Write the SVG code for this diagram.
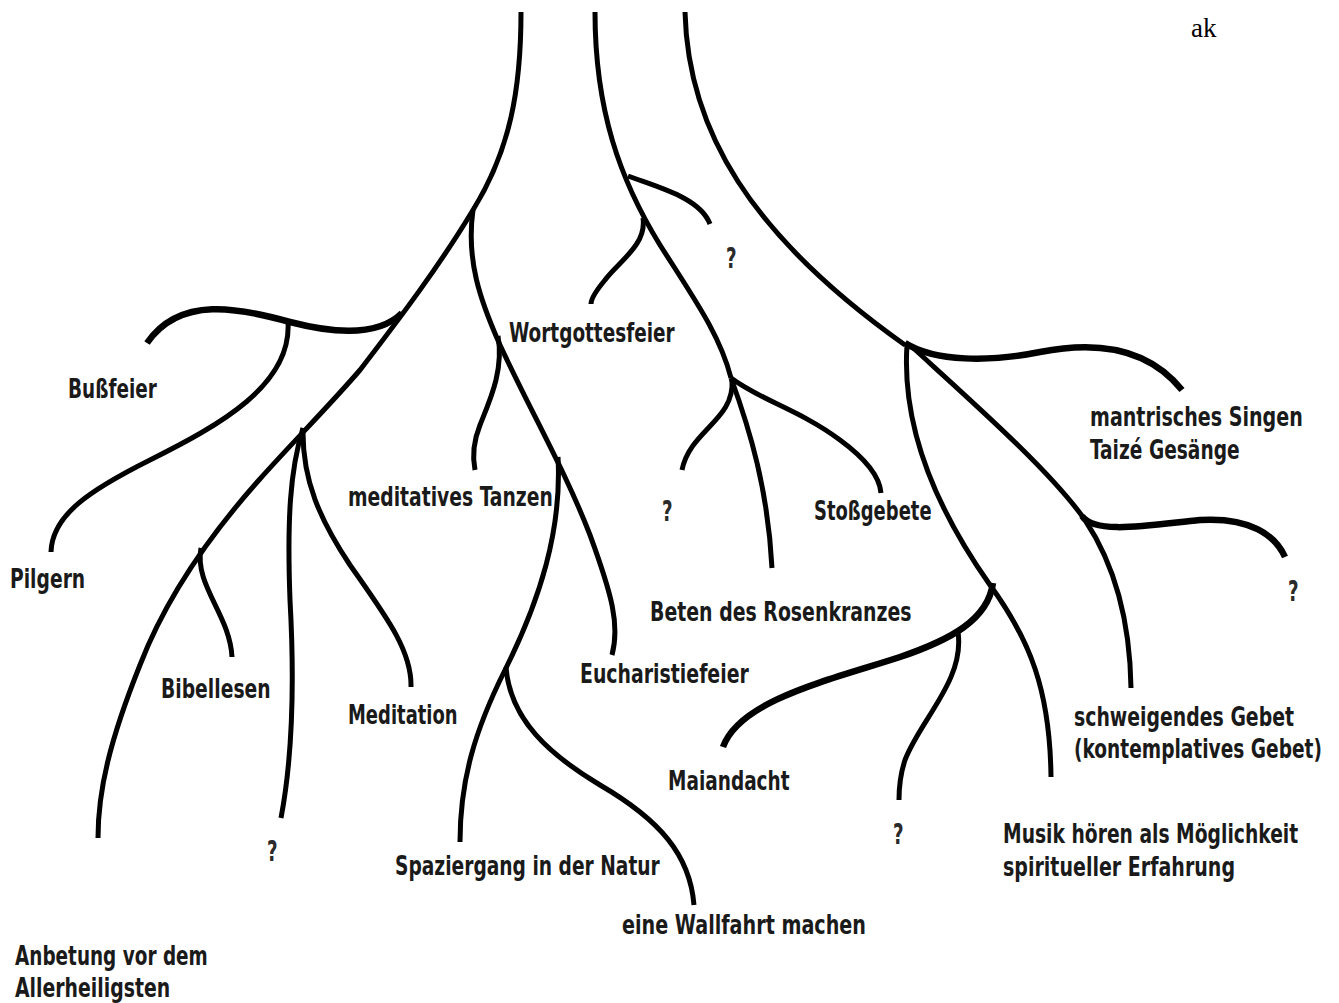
<svg xmlns="http://www.w3.org/2000/svg" width="1339" height="1003" viewBox="0 0 1339 1003">
<style>
.l{fill:none;stroke:#000;stroke-width:5;stroke-linecap:butt;stroke-linejoin:round}
.k{stroke-width:6.5}
.t{font-family:"DejaVu Sans Condensed","DejaVu Sans",sans-serif;font-weight:bold;font-size:26px;fill:#1a1a1a}
.q{font-size:29px;fill:#2a2a2a}
.s{font-family:"Liberation Serif","Times New Roman",serif;font-size:27px;fill:#000}
</style>
<rect width="1339" height="1003" fill="#fff"/>
<g id="connectors">
<path class="l" d="M521,12 C521,90 510,150 473,210 C440,265 400,318 360,370 C330,405 290,445 259,480 C210,535 165,600 140,665 C110,740 98,790 98,838"/>
<path class="l k" d="M402,313 C380,335 340,335 290,322 C240,308 180,295 147,343"/>
<path class="l" d="M288,322 C292,385 220,425 150,460 C90,490 52,515 51,552"/>
<path class="l" d="M201,548 C194,585 230,615 232,657"/>
<path class="l" d="M303,428 C290,470 287,520 290,600 C295,690 292,760 281,818"/>
<path class="l" d="M303,428 C302,480 320,520 350,565 C385,615 412,650 411,687"/>
<path class="l" d="M473,210 C466,260 480,300 500,345 C530,410 565,470 590,535 C612,595 620,625 612,655"/>
<path class="l" d="M498,336 C504,370 490,400 480,425 C472,445 473,460 475,470"/>
<path class="l" d="M558,457 C562,530 540,600 505,670 C475,730 460,780 460,842"/>
<path class="l" d="M506,667 C510,720 550,755 600,785 C660,820 690,855 694,905"/>
<path class="l" d="M595,12 C595,110 620,180 660,245 C695,300 720,335 731,378"/>
<path class="l" d="M628,176 C660,188 700,198 710,224"/>
<path class="l" d="M643,218 C647,245 618,262 605,280 C595,292 591,300 591,304"/>
<path class="l" d="M731,378 C750,430 768,490 772,568"/>
<path class="l" d="M732,380 C735,420 690,430 682,470"/>
<path class="l" d="M731,378 C760,400 800,410 840,440 C870,462 880,480 881,493"/>
<path class="l" d="M685,12 C688,130 750,235 905,345"/>
<path class="l k" d="M905,343 C935,362 990,362 1040,352 C1100,340 1150,350 1182,390"/>
<path class="l" d="M907,345 C902,420 930,500 990,585 C1030,640 1050,690 1051,777"/>
<path class="l" d="M910,345 C970,400 1050,470 1085,520 C1115,565 1130,620 1131,688"/>
<path class="l k" d="M1082,516 C1095,535 1150,525 1200,520 C1250,517 1275,535 1285,557"/>
<path class="l k" d="M993,583 C988,620 950,640 900,657 C830,680 740,700 723,747"/>
<path class="l" d="M958,632 C965,680 920,720 905,760 C900,775 899,790 899,800"/>
</g>
<g id="n-ak"><text class="s" x="1191" y="37">ak</text></g>
<g id="n-bussfeier"><text class="t" transform="translate(68,398) scale(0.8,1)" textLength="111" lengthAdjust="spacingAndGlyphs">Bußfeier</text></g>
<g id="n-pilgern"><text class="t" transform="translate(10,588) scale(0.8,1)" textLength="94" lengthAdjust="spacingAndGlyphs">Pilgern</text></g>
<g id="n-bibellesen"><text class="t" transform="translate(161,698) scale(0.8,1)" textLength="137" lengthAdjust="spacingAndGlyphs">Bibellesen</text></g>
<g id="n-meditation"><text class="t" transform="translate(348,724) scale(0.8,1)" textLength="137" lengthAdjust="spacingAndGlyphs">Meditation</text></g>
<g id="n-q1"><text class="t q" transform="translate(267,861) scale(0.7,1)">?</text></g>
<g id="n-anbetung"><text class="t" transform="translate(15,965) scale(0.8,1)" textLength="241" lengthAdjust="spacingAndGlyphs">Anbetung vor dem</text><text class="t" transform="translate(15,997) scale(0.8,1)" textLength="194" lengthAdjust="spacingAndGlyphs">Allerheiligsten</text></g>
<g id="n-tanzen"><text class="t" transform="translate(348,506) scale(0.8,1)" textLength="256" lengthAdjust="spacingAndGlyphs">meditatives Tanzen</text></g>
<g id="n-wortgottesfeier"><text class="t" transform="translate(509,342) scale(0.8,1)" textLength="207" lengthAdjust="spacingAndGlyphs">Wortgottesfeier</text></g>
<g id="n-q2"><text class="t q" transform="translate(726,268) scale(0.7,1)">?</text></g>
<g id="n-q3"><text class="t q" transform="translate(662,521) scale(0.7,1)">?</text></g>
<g id="n-stossgebete"><text class="t" transform="translate(814,520) scale(0.8,1)" textLength="147" lengthAdjust="spacingAndGlyphs">Stoßgebete</text></g>
<g id="n-rosenkranz"><text class="t" transform="translate(650,621) scale(0.8,1)" textLength="327" lengthAdjust="spacingAndGlyphs">Beten des Rosenkranzes</text></g>
<g id="n-eucharistie"><text class="t" transform="translate(580,683) scale(0.8,1)" textLength="211" lengthAdjust="spacingAndGlyphs">Eucharistiefeier</text></g>
<g id="n-maiandacht"><text class="t" transform="translate(668,790) scale(0.8,1)" textLength="152" lengthAdjust="spacingAndGlyphs">Maiandacht</text></g>
<g id="n-spaziergang"><text class="t" transform="translate(395,875) scale(0.8,1)" textLength="331" lengthAdjust="spacingAndGlyphs">Spaziergang in der Natur</text></g>
<g id="n-wallfahrt"><text class="t" transform="translate(622,934) scale(0.8,1)" textLength="305" lengthAdjust="spacingAndGlyphs">eine Wallfahrt machen</text></g>
<g id="n-q4"><text class="t q" transform="translate(893,844) scale(0.7,1)">?</text></g>
<g id="n-musik"><text class="t" transform="translate(1003,843) scale(0.8,1)" textLength="369" lengthAdjust="spacingAndGlyphs">Musik hören als Möglichkeit</text><text class="t" transform="translate(1003,876) scale(0.8,1)" textLength="290" lengthAdjust="spacingAndGlyphs">spiritueller Erfahrung</text></g>
<g id="n-schweigend"><text class="t" transform="translate(1074,726) scale(0.8,1)" textLength="275" lengthAdjust="spacingAndGlyphs">schweigendes Gebet</text><text class="t" transform="translate(1074,758) scale(0.8,1)" textLength="310" lengthAdjust="spacingAndGlyphs">(kontemplatives Gebet)</text></g>
<g id="n-mantrisch"><text class="t" transform="translate(1090,426) scale(0.8,1)" textLength="266" lengthAdjust="spacingAndGlyphs">mantrisches Singen</text><text class="t" transform="translate(1090,459) scale(0.8,1)" textLength="187" lengthAdjust="spacingAndGlyphs">Taizé Gesänge</text></g>
<g id="n-q5"><text class="t q" transform="translate(1288,601) scale(0.7,1)">?</text></g>
</svg>
